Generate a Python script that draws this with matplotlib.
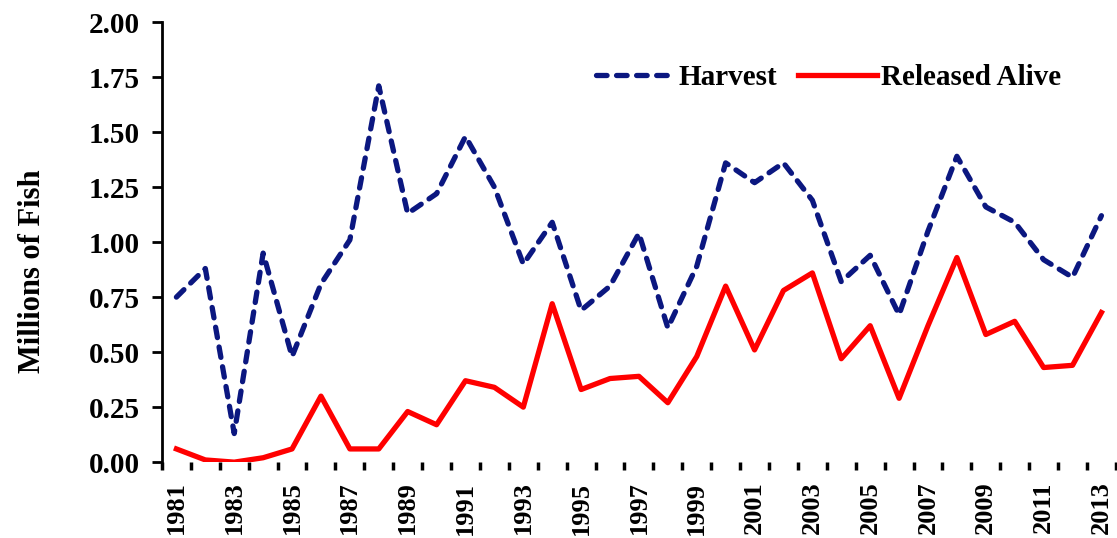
import matplotlib
matplotlib.use("Agg")
from matplotlib import pyplot as plt
import numpy as np

years = list(range(1981, 2014))
harvest = [0.75, 0.88, 0.13, 0.95, 0.48, 0.81, 1.01, 1.71, 1.13, 1.22, 1.48,
           1.25, 0.90, 1.09, 0.69, 0.80, 1.04, 0.61, 0.89, 1.36, 1.27, 1.36,
           1.19, 0.82, 0.94, 0.67, 1.05, 1.39, 1.16, 1.09, 0.92, 0.84, 1.12]
released = [0.06, 0.01, 0.00, 0.02, 0.06, 0.30, 0.06, 0.06, 0.23, 0.17, 0.37,
            0.34, 0.25, 0.72, 0.33, 0.38, 0.39, 0.27, 0.48, 0.80, 0.51, 0.78,
            0.86, 0.47, 0.62, 0.29, 0.62, 0.93, 0.58, 0.64, 0.43, 0.44, 0.68]
yticks = [0.0, 0.25, 0.5, 0.75, 1.0, 1.25, 1.5, 1.75, 2.0]

plt.rcParams['font.family'] = ['Liberation Serif', 'DejaVu Serif']
plt.rcParams['font.weight'] = 'bold'

fig = plt.figure(figsize=(11.17, 5.38), dpi=100)
ax = fig.add_axes([0.145, 0.141, 0.854, 0.818])

ax.plot(years, harvest, color='#0b1780', lw=3.8, ls=(0, (2.0, 1.8)),
        label='Harvest', solid_capstyle='round', dash_capstyle='round')
ax.plot(years, released, color='#ff0000', lw=3.8, label='Released Alive')

ax.set_xlim(years[0] - 0.5, years[-1] + 0.5)
ax.set_ylim(0, 2.0)
ax.set_yticks(yticks)
ax.set_yticklabels(['%.2f' % v for v in yticks], fontsize=21, fontweight='bold')

ax.set_xticks(years[::2])
ax.set_xticklabels([str(y) for y in years[::2]], rotation=90, fontsize=19,
                   fontweight='bold')
ax.set_xticks(np.arange(years[0] - 0.5, years[-1] + 1, 1.0), minor=True)
ax.tick_params(axis='x', which='major', length=0, pad=14)
ax.tick_params(axis='x', which='minor', length=6, width=2.5, direction='out')
ax.tick_params(axis='y', length=7, width=2, direction='out', pad=9)

for s in ['top', 'right', 'bottom']:
    ax.spines[s].set_visible(False)
ax.spines['left'].set_linewidth(2)

ax.set_ylabel('Millions of Fish', fontsize=22, fontweight='bold')
ax.yaxis.set_label_coords(-0.12, 0.435)

ax.legend(loc='upper right', bbox_to_anchor=(0.97, 0.965), ncol=2, frameon=False,
          fontsize=21, handlelength=2.7, handletextpad=0.15, columnspacing=0.7)

fig.savefig('out.png', dpi=100)
